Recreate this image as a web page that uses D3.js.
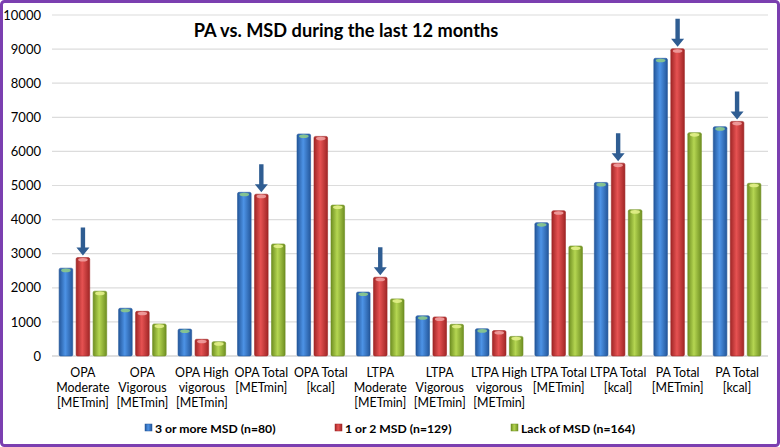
<!DOCTYPE html>
<html><head><meta charset="utf-8">
<script src="https://cdn.jsdelivr.net/npm/d3@7"></script>
<style>
html,body{margin:0;padding:0;background:#fff;}
svg{display:block;font-family:Lato,"Open Sans",sans-serif;}
</style></head>
<body>
<svg id="chart" width="780" height="447"></svg>
<script>
const categories = [
  ["OPA","Moderate","[METmin]"],
  ["OPA","Vigorous","[METmin]"],
  ["OPA High","vigorous","[METmin]"],
  ["OPA Total","[METmin]"],
  ["OPA Total","[kcal]"],
  ["LTPA","Moderate","[METmin]"],
  ["LTPA","Vigorous","[METmin]"],
  ["LTPA High","vigorous","[METmin]"],
  ["LTPA Total","[METmin]"],
  ["LTPA Total","[kcal]"],
  ["PA Total","[METmin]"],
  ["PA Total","[kcal]"]
];
const seriesNames = ["3 or more MSD (n=80)","1 or 2 MSD (n=129)","Lack of MSD (n=164)"];
const msd3plus = [2575, 1400, 790, 4800, 6510, 1875, 1180, 800, 3910, 5090, 8730, 6725];
const msd1to2 = [2885, 1310, 490, 4745, 6440, 2310, 1145, 745, 4260, 5655, 9010, 6880];
const msdNone = [1900, 940, 420, 3285, 4425, 1675, 930, 575, 3225, 4290, 6550, 5065];
const arrowCats = [0, 3, 5, 9, 10, 11];
const yTicks = [0,1000,2000,3000,4000,5000,6000,7000,8000,9000,10000];
const title = "PA vs. MSD during the last 12 months";

const svg = d3.select("#chart");
const defs = svg.append("defs");
const pal = [
  {edge:"#24579b", mid:"#4d93e6", cap:"#8cc98a"},
  {edge:"#a02626", mid:"#e65252", cap:"#f0a0a0"},
  {edge:"#6f8f22", mid:"#b5d652", cap:"#e2f08a"}
];
pal.forEach((p,i)=>{
  const g = defs.append("linearGradient").attr("id","g"+i).attr("x1","0").attr("x2","1").attr("y1","0").attr("y2","0");
  g.append("stop").attr("offset","0").attr("stop-color",p.edge);
  g.append("stop").attr("offset","0.45").attr("stop-color",p.mid);
  g.append("stop").attr("offset","1").attr("stop-color",p.edge);
});

const x0 = d3.scaleBand().domain(d3.range(categories.length)).range([52,768]).paddingInner(0.2).paddingOuter(0.12);
const x1 = d3.scaleBand().domain([0,1,2]).range([0,x0.bandwidth()]).paddingInner(0.2);
const y = d3.scaleLinear().domain([0,10000]).range([356,15]);

// gridlines
svg.append("g").selectAll("line").data(yTicks).join("line")
  .attr("x1",52).attr("x2",768).attr("y1",d=>y(d)).attr("y2",d=>y(d))
  .attr("stroke",d=>d===0?"#bfbfbf":"#dcdcdc").attr("stroke-width",1.2);

// y axis labels
const yAxis = d3.axisLeft(y).tickValues(yTicks).tickSize(0).tickPadding(0).tickFormat(d3.format("d"));
const ya = svg.append("g").attr("transform","translate(41,0)").call(yAxis);
ya.select(".domain").remove();
ya.selectAll("text").attr("font-size",13).attr("fill","#000").attr("font-family","Lato,'Open Sans',sans-serif");

// title
svg.append("text").attr("x",346).attr("y",37).attr("text-anchor","middle")
  .attr("font-size",18.2).attr("font-weight","bold").attr("fill","#000").text(title);

// bars
const series = [msd3plus, msd1to2, msdNone];
series.forEach((vals,si)=>{
  const g = svg.append("g");
  const bx = i => x0(i)+x1(si);
  const w = x1.bandwidth();
  g.selectAll("rect.bar").data(vals).join("rect").attr("class","bar")
    .attr("x",(d,i)=>bx(i)).attr("y",d=>y(d)).attr("width",w).attr("height",d=>y(0)-y(d))
    .attr("rx",1.5).attr("fill","url(#g"+si+")").attr("stroke",pal[si].edge).attr("stroke-width",0.6);
  g.selectAll("ellipse").data(vals).join("ellipse")
    .attr("cx",(d,i)=>bx(i)+w/2).attr("cy",d=>y(d)+2.2).attr("rx",w/2-2).attr("ry",1.8)
    .attr("fill",pal[si].cap).attr("opacity",0.9);
});

// arrows above red bars
const ag = svg.append("g");
arrowCats.forEach(ci=>{
  const cx = x0(ci)+x1(1)+x1.bandwidth()/2;
  const top = y(msd1to2[ci]) - 2;
  const path = d3.path();
  path.moveTo(cx-2.2, top-28);
  path.lineTo(cx+2.2, top-28);
  path.lineTo(cx+2.2, top-8);
  path.lineTo(cx+6.5, top-8);
  path.lineTo(cx, top);
  path.lineTo(cx-6.5, top-8);
  path.lineTo(cx-2.2, top-8);
  path.closePath();
  ag.append("path").attr("d",path.toString()).attr("fill","#2f5d92");
});

// x labels
const xl = svg.append("g");
categories.forEach((lines,i)=>{
  const cx = x0(i)+x0.bandwidth()/2;
  const t = xl.append("text").attr("x",cx).attr("y",377)
    .attr("text-anchor","middle").attr("font-size",12.4).attr("fill","#000");
  lines.forEach((ln,j)=>t.append("tspan").attr("x",cx).attr("dy",j===0?0:15).text(ln));
});

// legend
const legX = [145, 335, 511];
const lg = svg.append("g");
seriesNames.forEach((n,i)=>{
  lg.append("rect").attr("x",legX[i]).attr("y",424).attr("width",7).attr("height",7)
    .attr("fill","url(#g"+i+")").attr("stroke",pal[i].edge).attr("stroke-width",0.5);
  lg.append("text").attr("x",legX[i]+10).attr("y",432.5).attr("font-size",12.2).attr("font-weight","bold")
    .attr("fill","#000").text(n);
});

// frame
svg.append("rect").attr("x",1.5).attr("y",1.5).attr("width",777).attr("height",444).attr("rx",3)
  .attr("fill","none").attr("stroke","#7b3fb0").attr("stroke-width",3);
</script>
</body></html>
